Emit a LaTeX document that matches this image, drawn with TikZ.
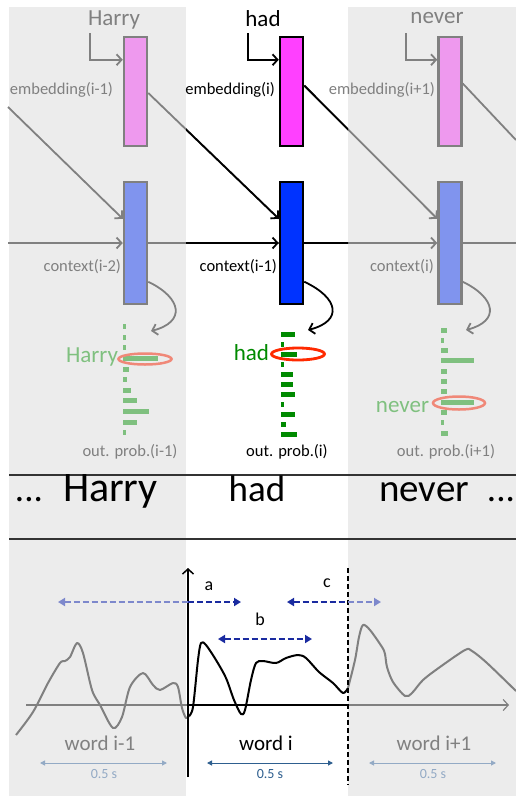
\documentclass[tikz,border=0pt]{standalone}
\usepackage{fontspec}
\setmainfont{Carlito}
\usetikzlibrary{arrows.meta,shapes.geometric}
\definecolor{panel}{HTML}{ECECEC}
\definecolor{gline}{HTML}{808080}
\definecolor{pinkbox}{HTML}{EE99EE}
\definecolor{lbluebox}{HTML}{8094EE}
\definecolor{magbox}{HTML}{FF40FF}
\definecolor{bluebox}{HTML}{0033FF}
\definecolor{lgreen}{HTML}{7FC07F}
\definecolor{dgreen}{HTML}{008A00}
\definecolor{salmon}{HTML}{F08878}
\definecolor{redell}{HTML}{FF2A00}
\definecolor{dblue}{HTML}{1A2BA0}
\definecolor{lblue}{HTML}{7D88CC}
\definecolor{dsteel}{HTML}{2E5F8F}
\definecolor{lsteel}{HTML}{93AAC5}
\definecolor{rule}{HTML}{333333}
\tikzset{trihead/.tip={Triangle[length=7pt,width=8pt]},
         smallhead/.tip={Triangle[length=5pt,width=5pt]},
         chevhead/.tip={Straight Barb[length=5pt,width=11pt]}}
\begin{document}
\begin{tikzpicture}[x=1pt,y=-1pt,
  every node/.style={inner sep=0pt, outer sep=0pt},
  f16/.style={font=\fontsize{16.5}{19}\selectfont},
  f23/.style={font=\fontsize{23}{27}\selectfont},
  f36/.style={font=\fontsize{37}{42}\selectfont},
  f20/.style={font=\fontsize{21}{24}\selectfont},
  f18/.style={font=\fontsize{18}{22}\selectfont},
  f14/.style={font=\fontsize{14}{17}\selectfont},
  embbox/.style={draw, line width=2.5pt, minimum width=23pt, minimum height=109pt, outer sep=1.25pt},
  ctxbox/.style={draw, line width=2.5pt, minimum width=23pt, minimum height=122pt, outer sep=1.25pt},
  chev/.style={-chevhead},
  garr/.style={gline, line width=1.8pt, chev},
  gln/.style={gline, line width=1.8pt},
  barr/.style={black, line width=1.8pt, chev},
  bln/.style={black, line width=1.8pt},
  dshd/.style={line width=2.5pt, dash pattern=on 6pt off 3pt},
  sarr/.style={line width=1pt, smallhead-smallhead},
]
\useasboundingbox (0,0) rectangle (516,796);
\fill[white] (0,0) rectangle (516,796);
% panels
\fill[panel] (9,7) rectangle (186,796);
\fill[panel] (348,7) rectangle (516,796);

% ---------- boxes ----------
\node[embbox, draw=gline, fill=pinkbox] (e1) at (135.5,91.5) {};
\node[embbox, draw=black, fill=magbox] (e2) at (291.5,91.5) {};
\node[embbox, draw=gline, fill=pinkbox] (e3) at (450,91.5) {};
\node[ctxbox, draw=gline, fill=lbluebox] (c1) at (135.5,243) {};
\node[ctxbox, draw=black, fill=bluebox] (c2) at (291.5,243) {};
\node[ctxbox, draw=gline, fill=lbluebox] (c3) at (450,243) {};

% ---------- top words and input arrows ----------
\node[f23, text=gline] (wH) at (114,20) {Harry};
\node[f23, text=black] (wh) at (263,19) {had};
\node[f23, text=gline] (wn) at (437,18) {never};
\coordinate (i1) at (90,33);
\coordinate (i2) at (248,33);
\coordinate (i3) at (406,33);
\draw[garr] (i1) |- ([yshift=-24pt]e1.north west);
\draw[barr] (i2) |- ([yshift=-24pt]e2.north west);
\draw[garr] (i3) |- ([yshift=-24pt]e3.north west);

% labels
\node[f16, text=gline, anchor=east] (le1) at (113,90) {embedding(i-1)};
\node[f16, text=black, anchor=east] (le2) at (275,90) {embedding(i)};
\node[f16, text=gline, anchor=east] (le3) at (435,90) {embedding(i+1)};
\node[f16, text=gline, anchor=east] (lc1) at (121,267) {context(i-2)};
\node[f16, text=black, anchor=east] (lc2) at (277,267) {context(i-1)};
\node[f16, text=gline, anchor=east] (lc3) at (434,267) {context(i)};
\node[f16, text=gline] (lo1) at (130,452) {out. prob.(i-1)};
\node[f16, text=black] (lo2) at (287,452) {out. prob.(i)};
\node[f16, text=gline] (lo3) at (446,452) {out. prob.(i+1)};

% ---------- diagonal connections ----------
\coordinate (d0) at (8,107);
\draw[garr] (d0) -- ([yshift=-38pt]c1.north west);
% e1 -> c2 (gray then black)
\draw[gln] ([yshift=-1.5pt]e1.east) -- ([yshift=-38pt]c2.north west);
\begin{scope}
  \clip (186,0) rectangle (348,796);
  \draw[barr] ([yshift=-1.5pt]e1.east) -- ([yshift=-38pt]c2.north west);
\end{scope}
% e2 -> c3 (black then gray)
\draw[garr] ([yshift=6pt]e2.east) -- ([yshift=-38pt]c3.north west);
\begin{scope}
  \clip (186,0) rectangle (348,796);
  \draw[bln] ([yshift=6pt]e2.east) -- ([yshift=-38pt]c3.north west);
\end{scope}
\coordinate (d4) at (516,140);
\draw[gln] ([yshift=8pt]e3.east) -- (d4);

% ---------- horizontal context line ----------
\coordinate (h0) at (8,243);
\coordinate (h4) at (516,243);
\draw[garr] (h0) -- (c1.west);
\draw[gln] (c1.east) -- (c2.west);
\begin{scope}
  \clip (186,0) rectangle (348,796);
  \draw[barr] (c1.east) -- (c2.west);
\end{scope}
\draw[garr] (c2.east) -- (c3.west);
\begin{scope}
  \clip (186,0) rectangle (348,796);
  \draw[bln] (c2.east) -- (c3.west);
\end{scope}
\draw[gln] (c3.east) -- (h4);

% ---------- curved output arrows ----------
\coordinate (o1) at (151,331);
\coordinate (o2) at (308,330);
\coordinate (o3) at (466,330);
\draw[garr] ([yshift=-101pt]c1.north east) .. controls (182,298) and (186,322) .. (o1);
\draw[barr] ([yshift=-101pt]c2.north east) .. controls (339,298) and (343,321) .. (o2);
\draw[garr] ([yshift=-101pt]c3.north east) .. controls (496,298) and (500,321) .. (o3);

% ---------- output bars ----------
\foreach \k/\w in {0/3,1/3,2/3,3/35,4/6,5/4,6/8,7/14,8/26,9/14,10/3}
  \fill[lgreen] (123,{326.7+10.6*\k-2.5}) rectangle ++(\w,5);
\foreach \k/\w in {0/14,1/3,2/16,3/3,4/12,5/12,6/14,7/3,8/14,9/5,10/16}
  \fill[dgreen] (281,{334+10*\k-2.5}) rectangle ++(\w,5);
\foreach \k/\w in {0/6,1/3,2/7,3/33,4/6,5/6,6/6,7/33,8/6,9/3,10/7}
  \fill[lgreen] (441,{330+10.3*\k-2.5}) rectangle ++(\w,5);

\node[ellipse, draw=salmon, line width=2.5pt, minimum width=53pt, minimum height=11pt] (el1) at (145,359) {};
\node[ellipse, draw=redell, line width=2.8pt, minimum width=53pt, minimum height=12pt] (el2) at (298,354) {};
\node[ellipse, draw=salmon, line width=2.5pt, minimum width=52pt, minimum height=13pt] (el3) at (459,403) {};
\node[f23, text=lgreen, anchor=east] (gH) at (118,357) {Harry};
\node[f23, text=dgreen, anchor=east] (gh) at (269,353) {had};
\node[f23, text=lgreen, anchor=east] (gn) at (429,407) {never};

% ---------- sentence band ----------
\coordinate (r1a) at (9,475);
\coordinate (r1b) at (516,475);
\coordinate (r2a) at (9,539);
\coordinate (r2b) at (516,539);
\draw[rule, line width=2pt] (r1a) -- (r1b);
\draw[rule, line width=2pt] (r2a) -- (r2b);
\node[f36, anchor=base west] (s1) at (15,501) {...\hspace{20pt}{\fontsize{42}{46}\selectfont Harry}};
\node[f36, anchor=base] (s2) at (257,501) {had};
\node[f36, anchor=base east] (s3) at (515,501) {{\fontsize{39}{44}\selectfont never}\hspace{18pt}...};

% ---------- signal ----------
\coordinate (ax0) at (188,777);
\coordinate (ax1) at (188,568);
\coordinate (hx0) at (26,705);
\coordinate (hx1) at (188,705);
\coordinate (hx2) at (348,705);
\coordinate (hx3) at (509,705);
\coordinate (vd0) at (348,568);
\coordinate (vd1) at (348,785);
\draw[gline, line width=1.2pt] (hx0) -- (hx1);
\draw[black, line width=1.2pt] (hx1) -- (hx2);
\draw[gline, line width=1.2pt, -chevhead] (hx2) -- (hx3);

\draw[gline, line width=2pt, line join=round] plot[smooth, tension=0.5] coordinates {
 (16,735) (33,712) (48,683) (60,663) (65,661) (70,657) (77,643) (83,653) (92,690)
 (100,705) (113,728) (122,717) (130,687) (143,673) (153,685) (160,690) (173,683)
 (178,687) (182,708) (186,718) (189,716)};
\draw[black, line width=2pt, line join=round] plot[smooth, tension=0.5] coordinates {
 (189,716) (193,707) (198,660) (201,643) (206,645) (216,660) (226,678) (234,700)
 (241,714) (245,710) (251,680) (256,663) (263,661) (276,663) (286,658) (298,655)
 (306,658) (319,672) (333,683) (343,693) (348,688)};
\draw[gline, line width=2pt, line join=round] plot[smooth, tension=0.5] coordinates {
 (348,688) (355,660) (359,637) (363,625) (370,630) (382,647) (385,654) (387,667)
 (393,682) (405,696) (412,693) (423,680) (440,667) (465,650) (472,651) (487,663)
 (516,691)};

\draw[black, line width=1.5pt, -chevhead] (ax0) -- (ax1);
\draw[black, line width=1.5pt, dash pattern=on 5pt off 3pt] (vd0) -- (vd1);

% a, b, c
\coordinate (a0) at (58,602);
\coordinate (a1) at (188,602);
\coordinate (a2) at (241,602);
\coordinate (b0) at (218,639);
\coordinate (b1) at (312,639);
\coordinate (c0) at (287,602);
\coordinate (c1p) at (348,602);
\coordinate (c2p) at (381,602);
\draw[dshd, lblue, trihead-] (a0) -- (a1);
\draw[dshd, dblue, -trihead] (a1) -- (a2);
\draw[dshd, dblue, trihead-trihead] (b0) -- (b1);
\draw[dshd, dblue, trihead-] (c0) -- (c1p);
\draw[dshd, lblue, -trihead] (c1p) -- (c2p);
\node[f18] (la) at (209,586) {a};
\node[f18] (lb) at (260,619) {b};
\node[f18] (lcc) at (327,583) {c};

% words and durations
\node[f20, text=gline] (w1) at (100,743) {word i-1};
\node[f20, text=black] (w2) at (266,743) {word i};
\node[f20, text=gline] (w3) at (434,743) {word i+1};
\coordinate (p0) at (40,763);
\coordinate (p1) at (167,763);
\coordinate (q0) at (207,763);
\coordinate (q1) at (333,763);
\coordinate (s0) at (369,763);
\coordinate (s1p) at (496,763);
\draw[sarr, lsteel] (p0) -- (p1);
\draw[sarr, dsteel] (q0) -- (q1);
\draw[sarr, lsteel] (s0) -- (s1p);
\node[f14, text=lsteel] (t1) at (104,774) {0.5 s};
\node[f14, text=dsteel] (t2) at (270,774) {0.5 s};
\node[f14, text=lsteel] (t3) at (433,774) {0.5 s};
\end{tikzpicture}
\end{document}
